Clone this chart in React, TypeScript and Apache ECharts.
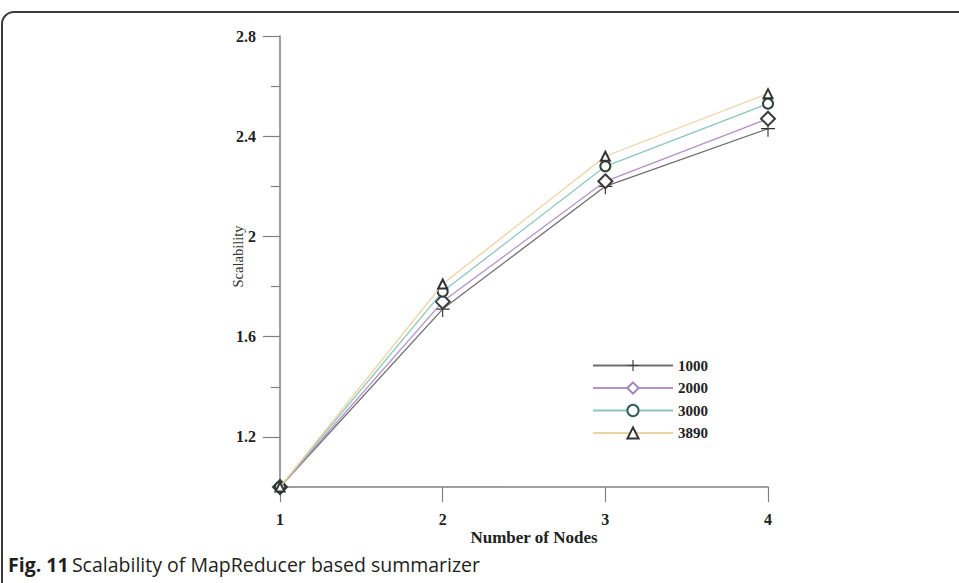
import React, { useEffect, useRef } from "react";
import * as echarts from "echarts";

const nodes = [1, 2, 3, 4];
const seriesNames = ["1000", "2000", "3000", "3890"];
const s1000 = [1.0, 1.71, 2.2, 2.43];
const s2000 = [1.0, 1.74, 2.22, 2.47];
const s3000 = [1.0, 1.78, 2.28, 2.53];
const s3890 = [1.0, 1.81, 2.32, 2.57];
const yMajorTicks = [1.2, 1.6, 2.0, 2.4, 2.8];
const yMinorTicks = [1.4, 1.8, 2.2, 2.6];
const xTicks = [1, 2, 3, 4];

const lineColors = ["#6e6e6e", "#b592c9", "#8cc8ba", "#ecd3a2"];
const markerColors = ["#333333", "#3a3a3a", "#2f3f3c", "#333333"];
const legendMarkerColors = ["#444444", "#a584bb", "#2e5e57", "#333333"];
const symbols = [
  "path://M7,0 L7,16 M0,8 L14,8",
  "emptyDiamond",
  "emptyCircle",
  "emptyTriangle",
];
const symbolSizes: any[] = [[14, 16], 14, 10, 9];

export default function App() {
  const ref = useRef<HTMLDivElement>(null);
  useEffect(() => {
    if (!ref.current) return;
    const chart = echarts.init(ref.current, null, { renderer: "svg" });
    const values = [s1000, s2000, s3000, s3890];
    const serif = "Liberation Serif";
    chart.setOption({
      animation: false,
      backgroundColor: "#ffffff",
      grid: { left: 280, right: 191, top: 36, bottom: 96 },
      xAxis: {
        type: "value",
        min: 1,
        max: 4,
        interval: 1,
        name: "Number of Nodes",
        nameLocation: "middle",
        nameGap: 42,
        nameMoveOverlap: false,
        nameTextStyle: { fontFamily: serif, fontWeight: "bold", fontSize: 17, color: "#222", padding: [0, 0, 0, 20] },
        axisLine: { lineStyle: { color: "#808080", width: 1.5 } },
        axisTick: { show: true, inside: false, length: 15, lineStyle: { color: "#808080", width: 1.2 }, customValues: xTicks },
        axisLabel: { fontFamily: serif, fontWeight: "bold", fontSize: 16, color: "#222", margin: 24, customValues: xTicks },
        splitLine: { show: false },
      },
      yAxis: [
        {
          type: "value",
          min: 1,
          max: 2.8,
          position: "left",
          name: "Scalability",
          nameLocation: "middle",
          nameGap: 35,
          nameMoveOverlap: false,
          nameTextStyle: { fontFamily: serif, fontSize: 14.5, color: "#333", padding: [0, 0, 0, 10] },
          axisLine: { show: true, lineStyle: { color: "#808080", width: 1.5 } },
          axisTick: { show: true, length: 17, lineStyle: { color: "#808080", width: 1.2 }, customValues: yMajorTicks },
          axisLabel: {
            fontFamily: serif,
            fontWeight: "bold",
            fontSize: 16,
            color: "#222",
            margin: 24,
            customValues: yMajorTicks,
            formatter: (v: number) => String(Math.round(v * 10) / 10),
          },
          splitLine: { show: false },
        },
        {
          type: "value",
          min: 1,
          max: 2.8,
          position: "left",
          offset: 0,
          axisLine: { show: false },
          axisTick: { show: true, length: 9, lineStyle: { color: "#808080", width: 1.2 }, customValues: yMinorTicks },
          axisLabel: { show: false },
          splitLine: { show: false },
        },
      ],
      legend: {
        orient: "vertical",
        left: 587,
        top: 353,
        itemWidth: 80,
        itemHeight: 14,
        itemGap: 7.5,
        textStyle: { fontFamily: serif, fontWeight: "bold", fontSize: 15, color: "#222", padding: [0, 0, 0, 0] },
        data: seriesNames.map((n, i) => ({
          name: n,
          itemStyle: { color: legendMarkerColors[i], borderColor: legendMarkerColors[i], borderWidth: 1.2 },
        })),
      },
      series: seriesNames.map((n, i) => ({
        name: n,
        type: "line",
        yAxisIndex: 0,
        data: nodes.map((x, j) => [x, values[i][j]]),
        symbol: symbols[i],
        symbolSize: symbolSizes[i],
        showSymbol: true,
        lineStyle: { color: lineColors[i], width: 1.3 },
        itemStyle: { color: markerColors[i], borderColor: markerColors[i], borderWidth: 1.2 },
        z: 2 + i,
      })),
      graphic: [
        {
          type: "rect",
          shape: { x: 2, y: 12, width: 2000, height: 2000, r: [12, 0, 0, 0] },
          style: { fill: "none", stroke: "#3a3a3a", lineWidth: 2 },
          silent: true,
        },
        {
          type: "text",
          left: 8,
          top: 554,
          style: {
            text: "{b|Fig. 11} {r|Scalability of MapReducer based summarizer}",
            rich: {
              b: { fontFamily: "Open Sans", fontWeight: "bold", fontSize: 19.5, fill: "#231f20" },
              r: { fontFamily: "Open Sans", fontSize: 19.5, fill: "#231f20" },
            },
          },
        },
      ],
    });
    return () => chart.dispose();
  }, []);
  return (
    <div
      ref={ref}
      style={{ position: "fixed", left: 0, top: 0, width: 959, height: 583 }}
    />
  );
}
